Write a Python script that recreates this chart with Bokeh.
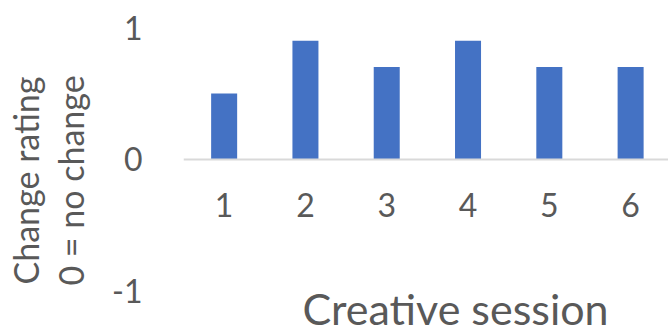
import math
from bokeh.plotting import figure
from bokeh.models import Range1d, FixedTicker, Label
from bokeh.embed import file_html
from bokeh.resources import INLINE

sessions = [1, 2, 3, 4, 5, 6]
ratings = [0.5, 0.9, 0.7, 0.9, 0.7, 0.7]
y_ticks = [-1, 0, 1]
y_tick_labels = ["-1", "0", "1"]
x_title = "Creative session"
y_title_lines = ["Change rating", "0 = no change"]

FONT = "Lato"
GRAY = "#595959"
BLUE = "#4472C4"
LEFT = 183

p = figure(width=668, height=333, output_backend="svg", toolbar_location=None,
           x_range=Range1d(0.5, 6.466), y_range=Range1d(-1.32, 1.0),
           min_border_left=LEFT, min_border_right=0, min_border_top=27, min_border_bottom=0)
p.outline_line_color = None
p.grid.visible = False
p.background_fill_color = "white"
p.border_fill_color = "white"

p.vbar(x=sessions, top=ratings, bottom=0, width=0.32, fill_color=BLUE, line_color=None)

p.xaxis.fixed_location = 0
p.xaxis.ticker = FixedTicker(ticks=sessions)
p.xaxis.axis_line_color = "#D9D9D9"
p.xaxis.axis_line_width = 2
p.xaxis.major_tick_line_color = None
p.xaxis.minor_tick_line_color = None
p.xaxis.major_label_text_font = FONT
p.xaxis.major_label_text_font_size = "32px"
p.xaxis.major_label_text_color = GRAY
p.xaxis.major_label_standoff = 28

p.yaxis.ticker = FixedTicker(ticks=y_ticks)
p.yaxis.major_label_overrides = {t: s for t, s in zip(y_ticks, y_tick_labels)}
p.yaxis.axis_line_color = None
p.yaxis.major_tick_line_color = None
p.yaxis.minor_tick_line_color = None
p.yaxis.major_label_text_font = FONT
p.yaxis.major_label_text_font_size = "32px"
p.yaxis.major_label_text_color = GRAY
p.yaxis.major_label_standoff = 35
p.yaxis.axis_label = "\n".join(y_title_lines)
p.yaxis.axis_label_text_font = FONT
p.yaxis.axis_label_text_font_size = "34px"
p.yaxis.axis_label_text_font_style = "normal"
p.yaxis.axis_label_text_color = GRAY
p.yaxis.axis_label_text_line_height = 1.1
p.yaxis.axis_label_standoff = 18

# screen units here are measured from the frame's left edge and bottom edge
p.add_layout(Label(x=455 - LEFT, y=25, x_units="screen", y_units="screen", text=x_title,
                   text_align="center", text_baseline="alphabetic",
                   text_font=FONT, text_font_size="43px", text_color=GRAY))

open("out.html", "w").write(file_html(p, INLINE))
